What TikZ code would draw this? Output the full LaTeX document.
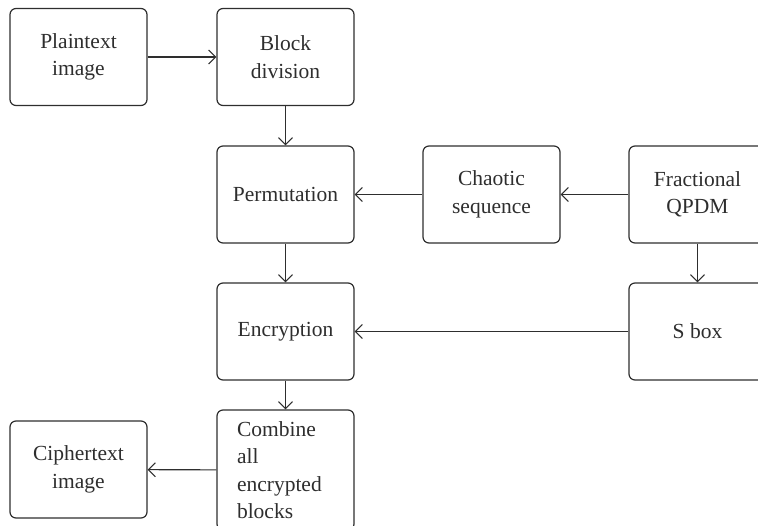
\documentclass[tikz,border=0pt]{standalone}
\usepackage{fontspec}
\setmainfont{Liberation Serif}
\usetikzlibrary{arrows.meta}
\definecolor{ink}{HTML}{2E2E2E}
\begin{document}
\begin{tikzpicture}[x=1pt,y=-1pt,
  box/.style={draw=ink, line width=1.2pt, rounded corners=6pt, minimum width=137pt, minimum height=97pt, inner sep=0pt, align=center, text=ink, font=\fontsize{21.5}{27.5}\selectfont},
  conn/.style={draw=ink, line width=1.1pt, -{Straight Barb[length=7pt,width=14pt,line width=1.1pt]}}]
\useasboundingbox (0,0) rectangle (758,525);
\clip (0,0) rectangle (758,525);
\node[box] (plain) at (78.5,57) {Plaintext\\image};
\node[box] (block) at (285.5,57) {Block\\division};
\node[box] (perm) at (285.5,194.5) {Permutation};
\node[box] (chaos) at (491.5,194.5) {Chaotic\\sequence};
\node[box] (frac) at (697.5,194.5) {Fractional\\QPDM};
\node[box] (enc) at (285.5,331.5) {Encryption};
\node[box] (sbox) at (697.5,331.5) {S box};
\node[box] (cipher) at (78.5,469.5) {Ciphertext\\image};
\node[box, minimum height=120pt, text width=97pt, align=left] (comb) at (285.5,470) {Combine\\all\\encrypted\\blocks};
\draw[conn] (plain) -- (block);
\draw[conn] (block) -- (perm);
\draw[conn] (chaos) -- (perm);
\draw[conn] (frac) -- (chaos);
\draw[conn] (perm) -- (enc);
\draw[conn] (frac) -- (sbox);
\draw[conn] (sbox) -- (enc);
\draw[conn] (enc) -- (comb);
\draw[conn] (comb) -- (cipher);
\end{tikzpicture}
\end{document}
